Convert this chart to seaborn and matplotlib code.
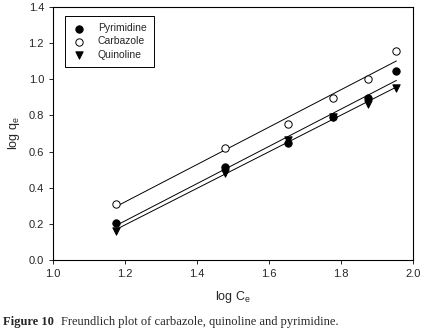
import numpy as np
import pandas as pd
import matplotlib
matplotlib.use("Agg")
import matplotlib.pyplot as plt
import seaborn as sns

log_ce = [1.176, 1.477, 1.653, 1.778, 1.875, 1.954]
pyrimidine = [0.205, 0.515, 0.645, 0.790, 0.895, 1.045]
carbazole = [0.310, 0.620, 0.755, 0.895, 1.000, 1.155]
quinoline = [0.160, 0.480, 0.665, 0.790, 0.865, 0.950]

x_ticks = [1.0, 1.2, 1.4, 1.6, 1.8, 2.0]
y_ticks = [0.0, 0.2, 0.4, 0.6, 0.8, 1.0, 1.2, 1.4]

df = pd.DataFrame({
    "log_ce": log_ce * 3,
    "log_qe": pyrimidine + carbazole + quinoline,
    "compound": ["Pyrimidine"] * 6 + ["Carbazole"] * 6 + ["Quinoline"] * 6,
})

sns.set_style("white")
plt.rcParams["font.family"] = ["Liberation Sans", "DejaVu Sans"]

fig = plt.figure(figsize=(4.24, 3.35), dpi=100)
ax = fig.add_axes([0.125, 0.224, 0.849, 0.755])

styles = {
    "Pyrimidine": dict(marker="o", facecolor="black"),
    "Carbazole": dict(marker="o", facecolor="white"),
    "Quinoline": dict(marker="v", facecolor="black"),
}

# linear fits first, so markers sit on top
for name, grp in df.groupby("compound", sort=False):
    slope, icpt = np.polyfit(grp["log_ce"], grp["log_qe"], 1)
    xs = np.array([grp["log_ce"].min(), grp["log_ce"].max()])
    sns.lineplot(x=xs, y=slope * xs + icpt, ax=ax, color="black", lw=0.7)

for name, grp in df.groupby("compound", sort=False):
    st = styles[name]
    sns.scatterplot(data=grp, x="log_ce", y="log_qe", ax=ax, marker=st["marker"],
                    color=st["facecolor"], edgecolor="black", linewidth=0.7,
                    s=28, label=name, zorder=3)

ax.set_xlim(1.0, 2.0)
ax.set_ylim(0.0, 1.4)
ax.set_xticks(x_ticks)
ax.set_yticks(y_ticks)
ax.set_xticklabels([f"{t:.1f}" for t in x_ticks], fontsize=8)
ax.set_yticklabels([f"{t:.1f}" for t in y_ticks], fontsize=8)
ax.tick_params(direction="out", length=3, width=0.7, bottom=True, left=True)
for sp in ax.spines.values():
    sp.set_color("black")
    sp.set_linewidth(0.8)
ax.set_xlabel(r"log C$_\mathregular{e}$", fontsize=9, labelpad=7)
ax.set_ylabel(r"log q$_\mathregular{e}$", fontsize=9, labelpad=5)

leg = ax.legend(loc="upper left", bbox_to_anchor=(0.02, 0.985), fontsize=7.5,
                frameon=True, fancybox=False, edgecolor="black", framealpha=1,
                handletextpad=1.2, borderpad=0.7, labelspacing=0.3,
                handlelength=1.2)
leg.get_frame().set_linewidth(0.7)

fig.text(0.007, 0.03, "Figure 10", fontsize=9, fontweight="bold",
         family="Liberation Serif", ha="left", va="baseline")
fig.text(0.145, 0.03, "Freundlich plot of carbazole, quinoline and pyrimidine.",
         fontsize=9, family="Liberation Serif", ha="left", va="baseline")

fig.savefig("out.png", dpi=100)
